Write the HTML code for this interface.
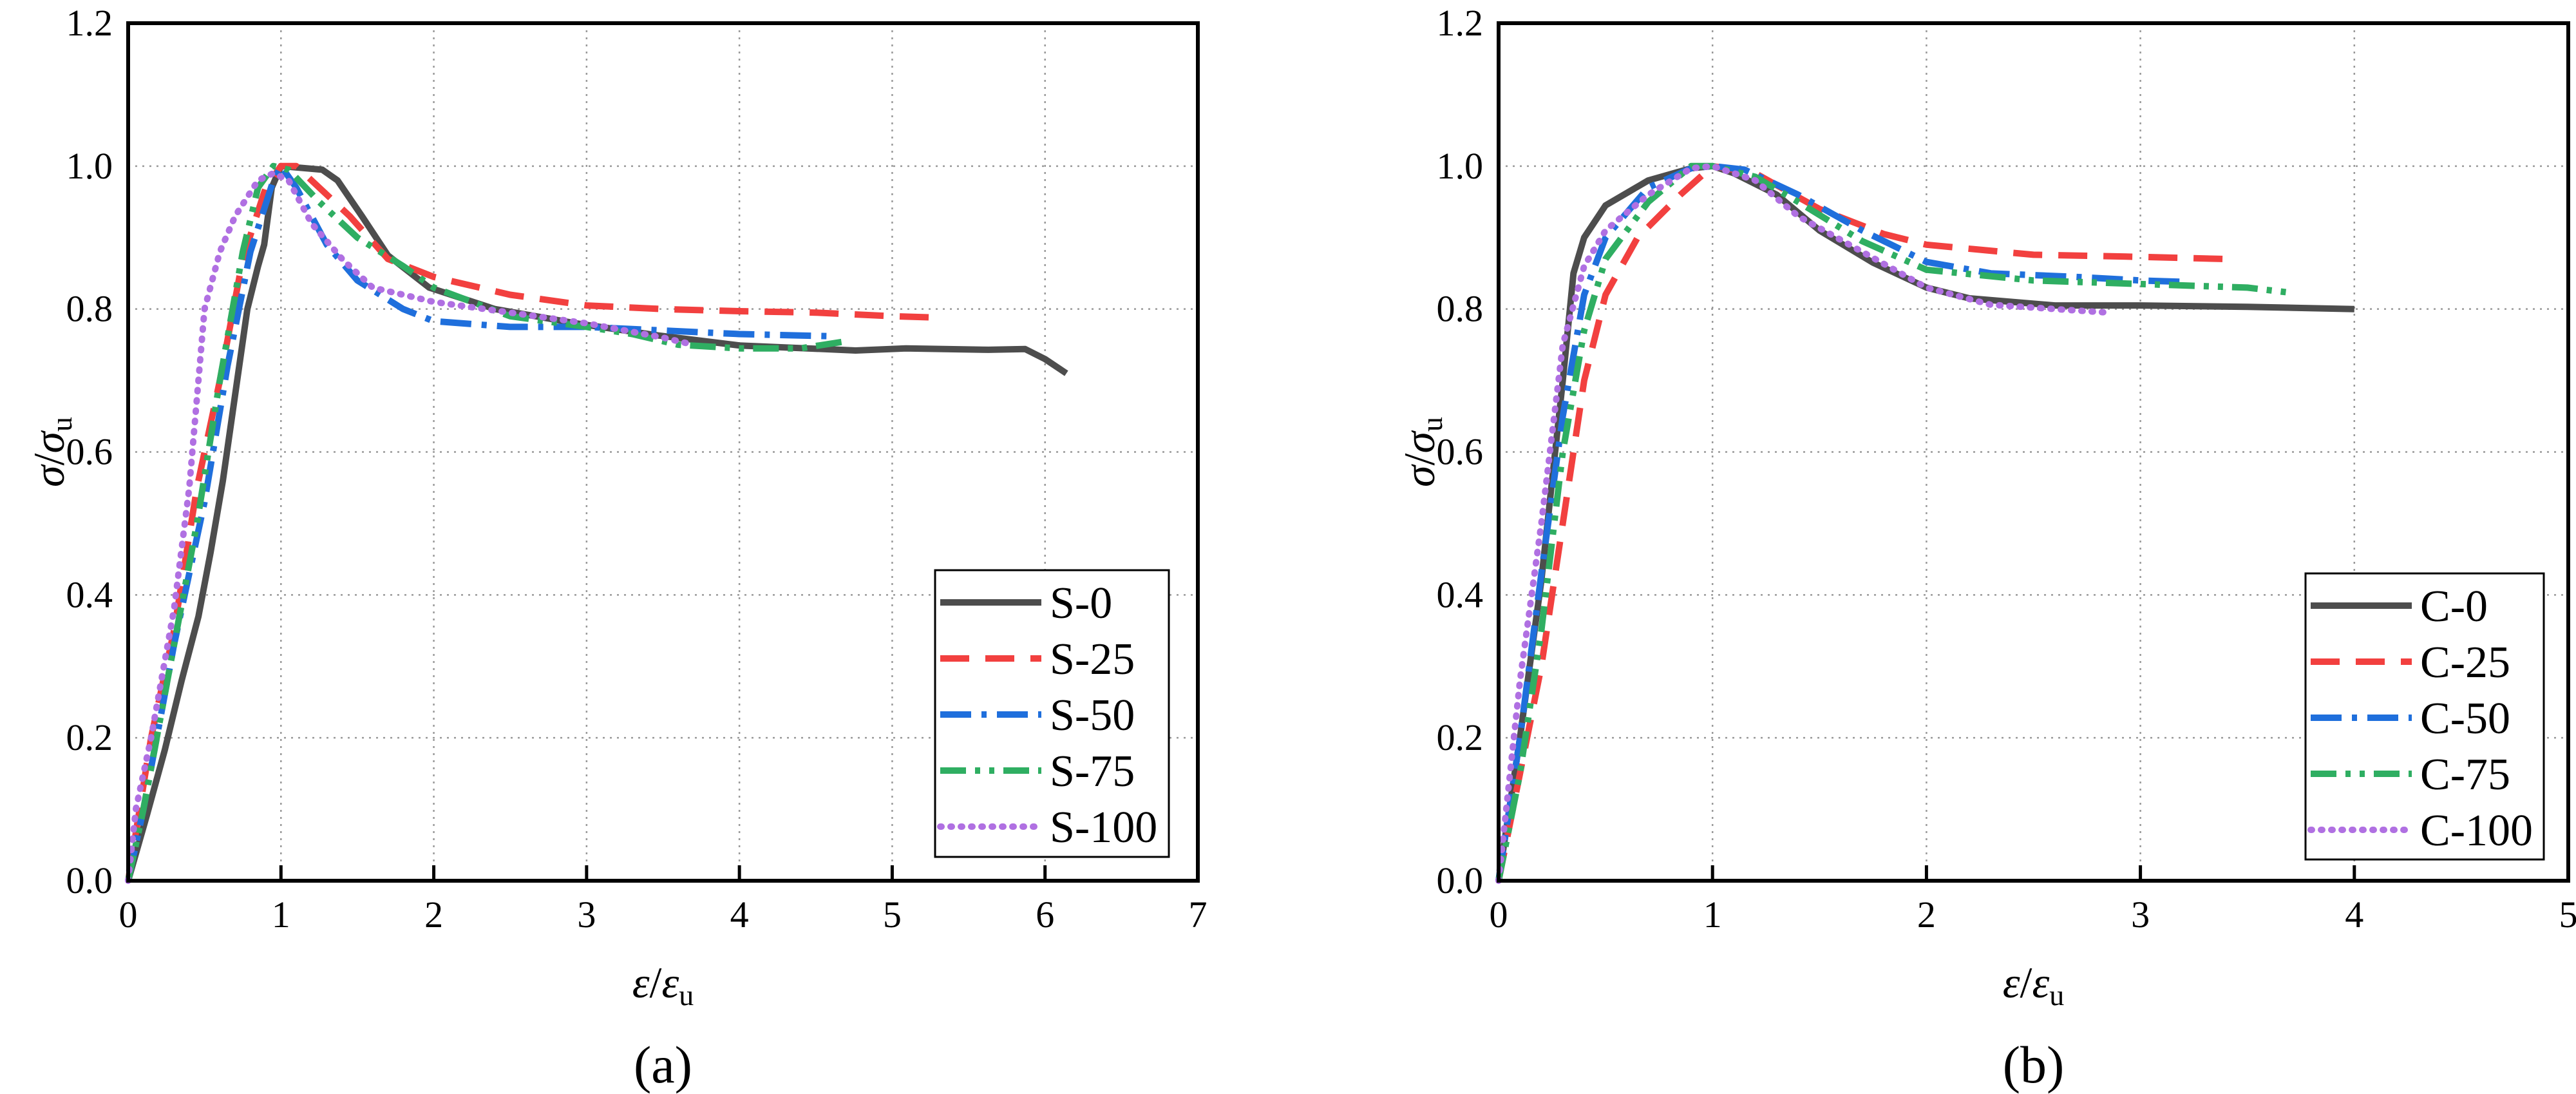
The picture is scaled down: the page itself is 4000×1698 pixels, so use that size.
<!DOCTYPE html>
<html><head><meta charset="utf-8"><style>
html,body{margin:0;padding:0;background:#fff}
svg{display:block}
svg text{font-family:"Liberation Serif","Times New Roman",serif;fill:#000}
</style></head><body>
<svg id="fig" width="4000" height="1698" viewBox="0 0 4000 1698" font-family="Liberation Serif, serif"></svg>
<script>
// ---- Data ----
const yTicks=[0,0.2,0.4,0.6,0.8,1.0,1.2];
const yTickLabels=["0.0","0.2","0.4","0.6","0.8","1.0","1.2"];
const xTicksA=[0,1,2,3,4,5,6,7];
const xTicksB=[0,1,2,3,4,5];
const namesA=["S-0","S-25","S-50","S-75","S-100"];
const namesB=["C-0","C-25","C-50","C-75","C-100"];
const s0x=[0,0.12,0.24,0.35,0.46,0.54,0.62,0.7,0.78,0.85,0.89,0.94,1.0,1.27,1.37,1.53,1.7,1.97,2.4,2.93,3.47,4.0,4.55,4.76,5.09,5.63,5.87,6.0,6.14];
const s0y=[0,0.09,0.183,0.28,0.37,0.46,0.56,0.68,0.80,0.86,0.89,0.97,1.0,0.995,0.98,0.93,0.875,0.83,0.80,0.78,0.763,0.749,0.744,0.742,0.745,0.743,0.744,0.73,0.71];
const s25x=[0,0.15,0.3,0.45,0.6,0.75,0.9,1.0,1.1,1.25,1.45,1.7,2.0,2.5,3.0,3.5,4.0,4.5,5.0,5.3];
const s25y=[0,0.2,0.35,0.55,0.7,0.87,0.97,1.0,1.0,0.97,0.93,0.87,0.845,0.82,0.805,0.80,0.797,0.795,0.79,0.788];
const s50x=[0,0.1,0.3,0.5,0.65,0.8,0.95,1.0,1.1,1.3,1.5,1.8,2.0,2.5,3.0,3.5,4.0,4.6];
const s50y=[0,0.1,0.33,0.53,0.72,0.88,0.98,1.0,0.97,0.89,0.84,0.80,0.783,0.775,0.775,0.77,0.765,0.762];
const s75x=[0,0.1,0.3,0.45,0.6,0.75,0.85,0.95,1.05,1.25,1.5,1.8,2.0,2.5,3.0,3.3,3.6,4.0,4.4,4.7];
const s75y=[0,0.1,0.33,0.5,0.7,0.88,0.97,1.0,0.995,0.95,0.9,0.86,0.83,0.79,0.775,0.765,0.75,0.745,0.745,0.755];
const s100x=[0,0.05,0.15,0.3,0.4,0.5,0.6,0.7,0.85,0.95,1.05,1.2,1.4,1.6,2.0,2.5,3.0,3.5,3.7];
const s100y=[0,0.1,0.2,0.38,0.55,0.8,0.88,0.93,0.98,0.99,0.98,0.92,0.87,0.83,0.81,0.795,0.78,0.76,0.75];
const c0x=[0,0.1,0.2,0.3,0.35,0.4,0.5,0.7,0.9,1.0,1.1,1.3,1.5,1.75,2.0,2.2,2.6,3.0,3.5,4.0];
const c0y=[0,0.2,0.42,0.7,0.85,0.9,0.945,0.98,0.997,1.0,0.99,0.96,0.91,0.865,0.83,0.815,0.805,0.805,0.803,0.8];
const c25x=[0,0.1,0.2,0.3,0.4,0.5,0.65,0.85,1.0,1.2,1.5,1.8,2.0,2.5,3.0,3.4];
const c25y=[0,0.15,0.3,0.5,0.7,0.82,0.9,0.96,1.0,0.99,0.94,0.905,0.89,0.876,0.873,0.87];
const c50x=[0,0.1,0.2,0.3,0.4,0.5,0.7,0.9,1.0,1.15,1.4,1.7,2.0,2.3,2.7,3.0,3.2];
const c50y=[0,0.2,0.43,0.65,0.82,0.9,0.97,0.997,1.0,0.995,0.96,0.91,0.866,0.85,0.845,0.84,0.838];
const c75x=[0,0.1,0.2,0.3,0.4,0.5,0.7,0.9,1.0,1.2,1.4,1.7,2.0,2.5,3.0,3.5,3.7];
const c75y=[0,0.15,0.35,0.6,0.77,0.87,0.95,1.0,1.0,0.985,0.95,0.895,0.855,0.84,0.835,0.83,0.823];
const c100x=[0,0.1,0.2,0.3,0.4,0.5,0.7,0.9,1.0,1.2,1.4,1.7,2.0,2.3,2.6,2.85];
const c100y=[0,0.28,0.5,0.75,0.86,0.91,0.96,0.997,1.0,0.98,0.93,0.88,0.83,0.806,0.8,0.795];

const NS="http://www.w3.org/2000/svg";
const svg=document.getElementById('fig');
function mk(tag,attrs,parent){const e=document.createElementNS(NS,tag);for(const k in attrs)e.setAttribute(k,attrs[k]);(parent||svg).appendChild(e);return e;}
const FF="Liberation Serif, serif";
const styles=[
 {stroke:"#4d4d4d",dash:""},
 {stroke:"#f2403f",dash:"45 25"},
 {stroke:"#1f6fdc",dash:"48 16 8 16"},
 {stroke:"#2fae62",dash:"40 14 8 14 8 14"},
 {stroke:"#b070e2",dash:"2 14"}
];
function panel(id,L,R,xmax,xTicks,series,names,leg,letter){
  const T=36,B=1367;
  const g=mk('g',{"font-family":FF});
  
  
  const X=v=>L+(R-L)*v/xmax, Y=v=>B-(B-T)*v/1.2;
  xTicks.forEach(t=>{if(t>0&&t<xmax){const l=mk('line',{x1:X(t),x2:X(t),y1:T,y2:B,stroke:"#999","stroke-width":2.5,"stroke-dasharray":"3 8"},g);}});
  yTicks.forEach(t=>{if(t>0&&t<1.2){const l=mk('line',{x1:L,x2:R,y1:Y(t),y2:Y(t),stroke:"#999","stroke-width":2.5,"stroke-dasharray":"3 8"},g);}});
  series.forEach((s,i)=>{
    const d=s[0].map((x,j)=>(j?'L':'M')+X(x).toFixed(1)+','+Y(s[1][j]).toFixed(1)).join(' ');
    const p=mk('path',{d:d,fill:"none",stroke:styles[i].stroke,"stroke-width":10,"stroke-linejoin":"round","stroke-linecap":i==4?"round":"butt"},g);
    if(styles[i].dash)p.setAttribute('stroke-dasharray',styles[i].dash);
    
    
  });
  const fr=mk('rect',{x:L,y:T,width:R-L,height:B-T,fill:"none",stroke:"#000","stroke-width":6},g);
  
  xTicks.forEach((t,i)=>{
    const tk=mk('line',{x1:X(t),x2:X(t),y1:B,y2:B-24,stroke:"#000","stroke-width":5},g);
    
    const tx=mk('text',{x:X(t),y:B+72,"font-size":58,"text-anchor":"middle","font-family":FF},g);tx.textContent=String(t);
    
  });
  yTicks.forEach((t,i)=>{
    const tx=mk('text',{x:L-24,y:Y(t)+19,"font-size":58,"text-anchor":"end","font-family":FF},g);tx.textContent=yTickLabels[i];
    
  });
  const yt=mk('text',{transform:`translate(${L-100},${(T+B)/2}) rotate(-90)`,"font-size":68,"text-anchor":"middle","font-family":FF},g);
  yt.innerHTML='<tspan font-style="italic">σ</tspan>/<tspan font-style="italic">σ</tspan><tspan font-size="46" dy="12">u</tspan>';
  
  const xt=mk('text',{x:(L+R)/2,y:1548,"font-size":68,"text-anchor":"middle","font-family":FF},g);
  xt.innerHTML='<tspan font-style="italic">ε</tspan>/<tspan font-style="italic">ε</tspan><tspan font-size="46" dy="12">u</tspan>';
  
  const cap=mk('text',{x:(L+R)/2,y:1680,"font-size":82,"text-anchor":"middle","font-family":FF},g);cap.textContent=letter;
  
  const lg=mk('g',{},g);
  const lb=mk('rect',{x:leg[0],y:leg[1],width:leg[2]-leg[0],height:leg[3]-leg[1],fill:"#fff",stroke:"#000","stroke-width":3},lg);
  
  names.forEach((n,i)=>{
    const yy=leg[1]+50+i*87;
    const e=mk('g',{},lg);
    const ln=mk('line',{x1:leg[0]+8,x2:leg[0]+165,y1:yy,y2:yy,stroke:styles[i].stroke,"stroke-width":10,"stroke-linecap":i==4?"round":"butt"},e);
    if(styles[i].dash)ln.setAttribute('stroke-dasharray',styles[i].dash);
    const t=mk('text',{x:leg[0]+178,y:yy+24,"font-size":70,"font-family":FF},e);t.textContent=n;
  });
}
panel('a',199,1860,7,xTicksA,[[s0x,s0y],[s25x,s25y],[s50x,s50y],[s75x,s75y],[s100x,s100y]],namesA,[1452,885,1815,1330],'(a)');
panel('b',2327,3988,5,xTicksB,[[c0x,c0y],[c25x,c25y],[c50x,c50y],[c75x,c75y],[c100x,c100y]],namesB,[3580,890,3950,1334],'(b)');
</script>
</body></html>
